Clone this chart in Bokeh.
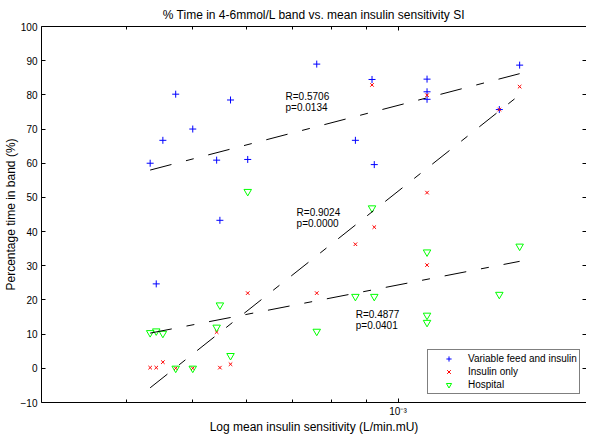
from bokeh.plotting import figure
from bokeh.models import (Range1d, LogAxis, LinearAxis, FixedTicker, Legend,
                          LegendItem, Label, ColumnDataSource)
from bokeh.embed import file_html
from bokeh.resources import INLINE

# ---- data ----
si = [4.33e-4, 4.42e-4, 4.52e-4, 4.72e-4, 5.00e-4, 5.42e-4, 5.48e-4, 5.68e-4,
      6.02e-4, 7.60e-4, 8.66e-4, 9.16e-4, 9.23e-4, 1.103e-3, 1.103e-3, 1.103e-3,
      1.408e-3, 1.508e-3]
variable_feed = [60.0, 24.7, 66.7, 80.2, 70.0, 60.9, 43.3, 78.5, 61.1, 89.0,
                 66.7, 84.5, 59.6, 84.6, 80.9, 78.7, 75.7, 88.7]
insulin_only = [0.2, 0.2, 1.8, 0.0, 0.0, 10.6, 0.2, 1.2, 22.0, 22.0,
                36.3, 82.9, 41.3, 79.9, 51.4, 30.2, 75.7, 82.4]
hospital = [10.4, 10.9, 10.2, 0.0, 0.0, 12.0, 18.5, 3.7, 51.7, 10.8,
            21.0, 46.9, 21.0, 34.0, 15.5, 13.4, 21.6, 35.7]

series_names = ["Variable feed and insulin", "Insulin only", "Hospital"]
fit_start_y = [58.0, -5.7, 10.3]
fit_end_y = [86.2, 80.0, 31.3]
fit_R = ["R=0.5706", "R=0.9024", "R=0.4877"]
fit_p = ["p=0.0134", "p=0.0000", "p=0.0401"]
fit_text_x = [6.84e-4, 7.10e-4, 8.67e-4]
fit_text_yR = [79.4, 45.7, 15.7]
fit_text_yp = [76.2, 42.3, 12.4]

y_ticks = [-10, 0, 10, 20, 30, 40, 50, 60, 70, 80, 90, 100]
x_major_ticks = [1e-3]
x_major_labels = {1e-3: "10\u207b\u00b3"}
x_minor_ticks = [4e-4, 5e-4, 6e-4, 7e-4, 8e-4, 9e-4, 2e-3]

FONT = "Liberation Sans"

p = figure(width=586, height=436, output_backend="svg", toolbar_location=None,
           x_axis_type="log", x_range=Range1d(3e-4, 1.89e-3), y_range=Range1d(-10, 100),
           min_border_left=39, min_border_right=0, min_border_top=26, min_border_bottom=20,
           background_fill_color="white", border_fill_color="white")
p.outline_line_color = None
p.grid.visible = False

p.title.text = "% Time in 4-6mmol/L band vs. mean insulin sensitivity SI"
p.title.align = "center"
p.title.text_font = FONT
p.title.text_font_size = "12px"
p.title.text_font_style = "normal"
p.title.text_color = "black"
p.title.standoff = 9

def style_axis(ax, labels=True):
    ax.axis_line_color = "black"
    ax.axis_line_width = 1
    ax.major_tick_line_color = "black"
    ax.minor_tick_line_color = "black"
    ax.major_tick_in = 4
    ax.major_tick_out = 0
    ax.minor_tick_in = 3
    ax.minor_tick_out = 0
    ax.major_label_text_font = FONT
    ax.major_label_text_color = "black"
    ax.axis_label_text_font = FONT
    ax.axis_label_text_font_size = "12px"
    ax.axis_label_text_font_style = "normal"
    ax.axis_label_text_color = "black"
    ax.major_label_text_font_size = "10px"
    if not labels:
        ax.major_label_text_font_size = "1px"
        ax.major_label_text_alpha = 0
        ax.major_label_standoff = 0
        ax.axis_label_standoff = 0

xt = FixedTicker(ticks=x_major_ticks, minor_ticks=x_minor_ticks)
yt = FixedTicker(ticks=y_ticks)

xa = p.xaxis[0]
xa.ticker = xt
xa.major_label_overrides = x_major_labels
xa.axis_label = "Log mean insulin sensitivity (L/min.mU)"
style_axis(xa)
xa.major_label_standoff = 3
xa.axis_label_standoff = 0
xa.major_label_text_baseline = "middle"
xa.axis_label_text_baseline = "middle"

ya = p.yaxis[0]
ya.ticker = yt
ya.axis_label = "Percentage time in band (%)"
style_axis(ya)
ya.major_label_standoff = 4
ya.axis_label_standoff = 0
ya.minor_tick_in = 0

top = LogAxis(ticker=xt)
style_axis(top, labels=False)
p.add_layout(top, "above")
right = LinearAxis(ticker=yt)
style_axis(right, labels=False)
right.minor_tick_in = 0
p.add_layout(right, "right")

src = ColumnDataSource(dict(si=si, vf=variable_feed, io=insulin_only, ho=hospital))

r_vf = p.scatter("si", "vf", source=src, marker="cross", size=7, line_color="#0000ff", line_width=1)
r_io = p.scatter("si", "io", source=src, marker="x", size=5, line_color="#ff0000", line_width=1)
r_ho = p.scatter("si", "ho", source=src, marker="inverted_triangle", size=7.5,
                 line_color="#00ff00", fill_color=None, line_width=1)

x_lo, x_hi = min(si), max(si)
for y0, y1 in zip(fit_start_y, fit_end_y):
    p.line([x_lo, x_hi], [y0, y1], line_color="black", line_width=1, line_dash="22 15 8 15")

for x, t1, t2, y1, y2 in zip(fit_text_x, fit_R, fit_p, fit_text_yR, fit_text_yp):
    for t, y in ((t1, y1), (t2, y2)):
        p.add_layout(Label(x=x, y=y, text=t, text_font=FONT, text_font_size="10px",
                           text_baseline="middle", text_align="left", text_color="black"))

legend = Legend(items=[LegendItem(label=series_names[0], renderers=[r_vf]),
                       LegendItem(label=series_names[1], renderers=[r_io]),
                       LegendItem(label=series_names[2], renderers=[r_ho])],
                location=(386, 8), padding=2, spacing=0, margin=0,
                glyph_width=37, glyph_height=13, label_height=13, label_standoff=1,
                label_text_font=FONT, label_text_font_size="10px", label_text_color="black",
                border_line_color="black", border_line_width=1,
                background_fill_color="white", background_fill_alpha=1)
p.add_layout(legend, "center")

open("out.html", "w").write(file_html(p, INLINE))
